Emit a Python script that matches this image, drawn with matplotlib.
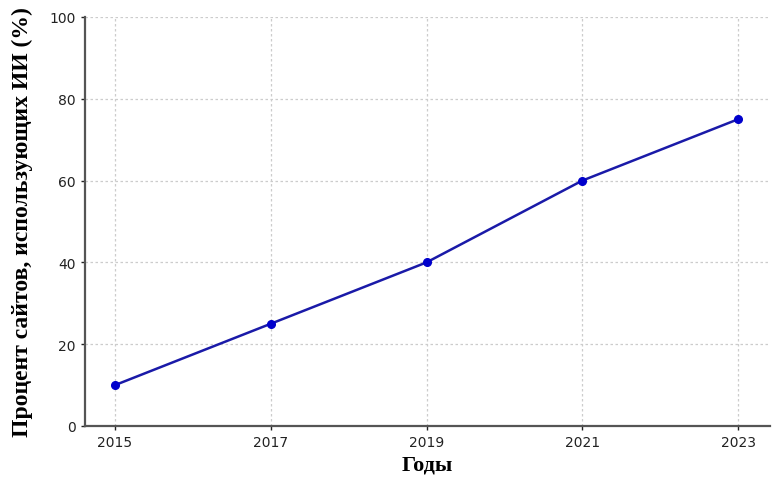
import matplotlib.pyplot as plt

years = [2015, 2017, 2019, 2021, 2023]
percent = [10, 25, 40, 60, 75]

fig = plt.figure(figsize=(7.77, 4.85), dpi=100)
ax = fig.add_axes([85 / 777, 58 / 485, 685 / 777, 409 / 485])

ax.plot(years, percent, color='#1a1aa8', lw=1.8, marker='o',
        markersize=5.5, markerfacecolor='#0000cc', markeredgecolor='#0000cc')

ax.set_xlim(2014.615, 2023.41)
ax.set_ylim(0, 100)
ax.set_xticks(years)
ax.set_yticks([0, 20, 40, 60, 80, 100])
ax.grid(True, linestyle=(0, (2, 2)), color='#cccccc', lw=0.9)

for s in ['top', 'right']:
    ax.spines[s].set_visible(False)
for s in ['left', 'bottom']:
    ax.spines[s].set_color('#555555')
    ax.spines[s].set_linewidth(1.6)
ax.tick_params(colors='#222222', labelsize=10, length=3, width=1)

ax.set_xlabel('Годы', family='Liberation Serif', fontweight='bold', fontsize=16)
ax.set_ylabel('Процент сайтов, использующих ИИ (%)', family='Liberation Serif',
              fontweight='bold', fontsize=17, labelpad=12)

fig.savefig('out.png', dpi=100)
